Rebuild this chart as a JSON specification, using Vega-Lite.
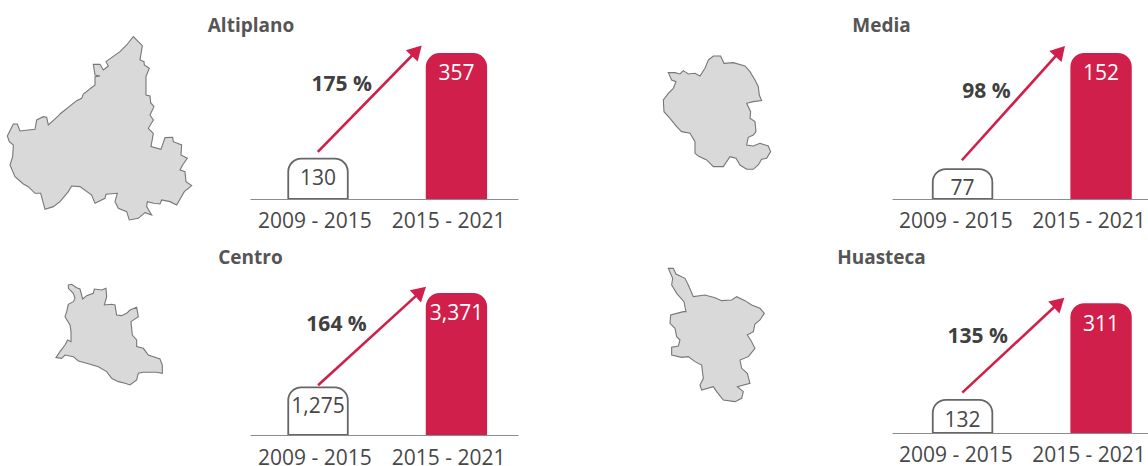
{"$schema":"https://vega.github.io/schema/vega-lite/v6.json","padding":{"left":0,"top":0,"right":0,"bottom":31},"bounds":"flush","align":"each","columns":4,"spacing":{"row":36,"column":0},"background":"white","config":{"view":{"stroke":null},"font":"Open Sans","axis":{"labelFont":"Open Sans"}},"concat":[
{"width":250,"height":199,"projection":{"type":"identity","scale":0.3333,"translate":[0,0]},"layer":[
{"data":{"values":[{"type":"Feature","properties":{"region":"Altiplano"},"geometry":{"type":"Polygon","coordinates":[[[400,110],[427,137],[420,180],[432,185],[433,195],[448,205],[438,230],[438,285],[450,288],[452,308],[462,320],[450,345],[460,360],[445,385],[460,400],[453,440],[483,448],[495,413],[518,412],[520,425],[545,435],[543,465],[562,475],[548,495],[540,510],[555,515],[558,545],[575,557],[553,575],[530,615],[510,605],[485,600],[480,612],[462,610],[442,605],[440,620],[455,645],[435,638],[415,655],[388,660],[380,635],[355,625],[345,605],[352,580],[318,583],[315,595],[285,610],[275,585],[240,560],[215,558],[205,575],[180,605],[160,620],[135,628],[122,580],[105,580],[85,560],[70,552],[45,530],[30,495],[38,470],[40,435],[28,425],[22,408],[40,372],[52,372],[60,393],[105,388],[110,360],[130,350],[140,352],[145,375],[175,348],[180,342],[230,302],[245,295],[250,282],[285,255],[285,230],[300,228],[285,225],[280,193],[300,193],[310,210],[325,198],[318,185],[360,155],[380,135],[400,110]]]}}]},"mark":{"type":"geoshape","clip":false,"fill":"#d9d9d9","stroke":"#777777","strokeWidth":1.1}},
{"data":{"values":[{"lon":753,"lat":78,"name":"Altiplano"}]},"mark":{"type":"text","clip":false,"fontSize":19,"fontWeight":"bold","color":"#555555","baseline":"middle"},"encoding":{"longitude":{"field":"lon","type":"quantitative"},"latitude":{"field":"lat","type":"quantitative"},"text":{"field":"name"}}}
]},
{"width":268,"height":199,"resolve":{"scale":{"x":"independent"}},"layer":[
{"data":{"values":[{"period":"2009 - 2015","value":130},{"period":"2015 - 2021","value":357}]},"layer":[
{"mark":{"type":"bar","clip":true,"strokeWidth":1.8,"cornerRadiusTopLeft":13,"cornerRadiusTopRight":13},"encoding":{"x":{"field":"period","type":"nominal","scale":{"paddingInner":0.57,"paddingOuter":0.253,"align":0.546},"axis":{"title":null,"ticks":false,"labels":false,"domainColor":"#8c8c8c","domainWidth":1.2,"zindex":1}},"y":{"field":"value","type":"quantitative","scale":{"domain":[42.6,474],"zero":false,"nice":false},"axis":null},"y2":{"datum":42.6},"fill":{"field":"period","type":"nominal","scale":{"domain":["2009 - 2015","2015 - 2021"],"range":["#ffffff","#d01f4a"]},"legend":null},"stroke":{"field":"period","type":"nominal","scale":{"domain":["2009 - 2015","2015 - 2021"],"range":["#666666","#d01f4a"]},"legend":null}}},
{"mark":{"type":"text","fontSize":21,"dy":20,"baseline":"middle"},"encoding":{"x":{"field":"period","type":"nominal"},"y":{"field":"value","type":"quantitative"},"text":{"field":"value"},"color":{"field":"period","type":"nominal","scale":{"domain":["2009 - 2015","2015 - 2021"],"range":["#484848","#ffffff"]},"legend":null}}}
]},
{"data":{"values":[{"pos":0.2418,"val":-7,"period":"2009 - 2015"},{"pos":0.7414,"val":-7,"period":"2015 - 2021"}]},"mark":{"type":"text","fontSize":21,"color":"#484848","baseline":"middle"},"encoding":{"x":{"field":"pos","type":"quantitative","scale":{"domain":[0,1]},"axis":null},"y":{"field":"val","type":"quantitative"},"text":{"field":"period"}}},
{"data":{"values":[{"pos":0.253,"val":144.6},{"pos":0.622,"val":364}]},"mark":{"type":"line","color":"#d01f4a","strokeWidth":2.6},"encoding":{"x":{"field":"pos","type":"quantitative","scale":{"domain":[0,1]},"axis":null},"y":{"field":"val","type":"quantitative"}}},
{"data":{"values":[{"pos":0.622,"val":364}]},"mark":{"type":"point","shape":"triangle-up","filled":true,"opacity":1,"size":272,"angle":44,"color":"#d01f4a"},"encoding":{"x":{"field":"pos","type":"quantitative","scale":{"domain":[0,1]},"axis":null},"y":{"field":"val","type":"quantitative"}}},
{"data":{"values":[{"pos":0.342,"val":290.4,"label":"175 %"}]},"mark":{"type":"text","fontSize":21,"fontWeight":"bold","color":"#404040","baseline":"middle"},"encoding":{"x":{"field":"pos","type":"quantitative","scale":{"domain":[0,1]},"axis":null},"y":{"field":"val","type":"quantitative"},"text":{"field":"label"}}}
]},
{"width":374,"height":199,"projection":{"type":"identity","scale":0.3333,"translate":[0,0]},"layer":[
{"data":{"values":[{"type":"Feature","properties":{"region":"Media"},"geometry":{"type":"Polygon","coordinates":[[[571,180],[586,168],[608,168],[618,190],[646,188],[681,198],[696,215],[711,240],[721,260],[724,285],[731,302],[706,305],[686,310],[698,335],[696,355],[711,365],[714,395],[706,405],[691,412],[686,435],[706,438],[726,430],[751,438],[758,455],[746,475],[731,478],[721,495],[706,508],[686,508],[666,495],[654,475],[636,470],[616,500],[586,500],[566,480],[541,468],[531,460],[531,425],[516,400],[491,395],[476,380],[456,355],[438,335],[436,300],[451,280],[466,265],[474,245],[461,240],[451,218],[471,218],[486,222],[496,212],[511,222],[531,220],[546,228],[561,205],[571,180]]]}}]},"mark":{"type":"geoshape","clip":false,"fill":"#d9d9d9","stroke":"#777777","strokeWidth":1.1}},
{"data":{"values":[{"lon":1090.5,"lat":78,"name":"Media"}]},"mark":{"type":"text","clip":false,"fontSize":19,"fontWeight":"bold","color":"#555555","baseline":"middle"},"encoding":{"longitude":{"field":"lon","type":"quantitative"},"latitude":{"field":"lat","type":"quantitative"},"text":{"field":"name"}}}
]},
{"width":256,"height":199,"resolve":{"scale":{"x":"independent"}},"layer":[
{"data":{"values":[{"period":"2009 - 2015","value":77},{"period":"2015 - 2021","value":152}]},"layer":[
{"mark":{"type":"bar","clip":true,"strokeWidth":1.8,"cornerRadiusTopLeft":13,"cornerRadiusTopRight":13},"encoding":{"x":{"field":"period","type":"nominal","scale":{"paddingInner":0.57,"paddingOuter":0.209,"align":0.704},"axis":{"title":null,"ticks":false,"labels":false,"domainColor":"#8c8c8c","domainWidth":1.2,"zindex":1}},"y":{"field":"value","type":"quantitative","scale":{"domain":[57.6,187],"zero":false,"nice":false},"axis":null},"y2":{"datum":57.6},"fill":{"field":"period","type":"nominal","scale":{"domain":["2009 - 2015","2015 - 2021"],"range":["#ffffff","#d01f4a"]},"legend":null},"stroke":{"field":"period","type":"nominal","scale":{"domain":["2009 - 2015","2015 - 2021"],"range":["#666666","#d01f4a"]},"legend":null}}},
{"mark":{"type":"text","fontSize":21,"dy":20,"baseline":"middle"},"encoding":{"x":{"field":"period","type":"nominal"},"y":{"field":"value","type":"quantitative"},"text":{"field":"value"},"color":{"field":"period","type":"nominal","scale":{"domain":["2009 - 2015","2015 - 2021"],"range":["#484848","#ffffff"]},"legend":null}}}
]},
{"data":{"values":[{"pos":0.2492,"val":42.8,"period":"2009 - 2015"},{"pos":0.7695,"val":42.8,"period":"2015 - 2021"}]},"mark":{"type":"text","fontSize":21,"color":"#484848","baseline":"middle"},"encoding":{"x":{"field":"pos","type":"quantitative","scale":{"domain":[0,1]},"axis":null},"y":{"field":"val","type":"quantitative"},"text":{"field":"period"}}},
{"data":{"values":[{"pos":0.273,"val":82.8},{"pos":0.657,"val":153.7}]},"mark":{"type":"line","color":"#d01f4a","strokeWidth":2.6},"encoding":{"x":{"field":"pos","type":"quantitative","scale":{"domain":[0,1]},"axis":null},"y":{"field":"val","type":"quantitative"}}},
{"data":{"values":[{"pos":0.657,"val":153.7}]},"mark":{"type":"point","shape":"triangle-up","filled":true,"opacity":1,"size":272,"angle":42,"color":"#d01f4a"},"encoding":{"x":{"field":"pos","type":"quantitative","scale":{"domain":[0,1]},"axis":null},"y":{"field":"val","type":"quantitative"}}},
{"data":{"values":[{"pos":0.369,"val":127.1,"label":"98 %"}]},"mark":{"type":"text","fontSize":21,"fontWeight":"bold","color":"#404040","baseline":"middle"},"encoding":{"x":{"field":"pos","type":"quantitative","scale":{"domain":[0,1]},"axis":null},"y":{"field":"val","type":"quantitative"},"text":{"field":"label"}}}
]},
{"width":250,"height":200,"projection":{"type":"identity","scale":0.3333,"translate":[0,0]},"layer":[
{"data":{"values":[{"type":"Feature","properties":{"region":"Centro"},"geometry":{"type":"Polygon","coordinates":[[[205,150],[215,148],[230,158],[240,162],[248,192],[260,182],[280,175],[283,162],[305,165],[318,160],[320,185],[313,210],[335,208],[345,210],[350,240],[365,242],[380,235],[390,225],[410,217],[415,245],[393,260],[397,300],[410,315],[410,335],[430,340],[445,360],[480,372],[487,390],[487,415],[470,412],[430,412],[415,415],[410,435],[390,450],[375,445],[355,440],[335,430],[320,410],[295,395],[260,385],[235,378],[220,365],[195,360],[185,370],[168,368],[180,350],[195,330],[203,315],[213,320],[213,290],[210,270],[195,245],[200,230],[205,208],[220,200],[225,190],[220,175],[205,160],[205,150]]]}}]},"mark":{"type":"geoshape","clip":false,"fill":"#d9d9d9","stroke":"#777777","strokeWidth":1.1}},
{"data":{"values":[{"lon":751.5,"lat":69,"name":"Centro"}]},"mark":{"type":"text","clip":false,"fontSize":19,"fontWeight":"bold","color":"#555555","baseline":"middle"},"encoding":{"longitude":{"field":"lon","type":"quantitative"},"latitude":{"field":"lat","type":"quantitative"},"text":{"field":"name"}}}
]},
{"width":268,"height":200,"resolve":{"scale":{"x":"independent"}},"layer":[
{"data":{"values":[{"period":"2009 - 2015","value":1275,"shown":"1,275"},{"period":"2015 - 2021","value":3371,"shown":"3,371"}]},"layer":[
{"mark":{"type":"bar","clip":true,"strokeWidth":1.8,"cornerRadiusTopLeft":13,"cornerRadiusTopRight":13},"encoding":{"x":{"field":"period","type":"nominal","scale":{"paddingInner":0.57,"paddingOuter":0.253,"align":0.546},"axis":{"title":null,"ticks":false,"labels":false,"domainColor":"#8c8c8c","domainWidth":1.2,"zindex":1}},"y":{"field":"value","type":"quantitative","scale":{"domain":[205,4690],"zero":false,"nice":false},"axis":null},"y2":{"datum":205},"fill":{"field":"period","type":"nominal","scale":{"domain":["2009 - 2015","2015 - 2021"],"range":["#ffffff","#d01f4a"]},"legend":null},"stroke":{"field":"period","type":"nominal","scale":{"domain":["2009 - 2015","2015 - 2021"],"range":["#666666","#d01f4a"]},"legend":null}}},
{"mark":{"type":"text","fontSize":21,"dy":20,"baseline":"middle"},"encoding":{"x":{"field":"period","type":"nominal"},"y":{"field":"value","type":"quantitative"},"text":{"field":"shown"},"color":{"field":"period","type":"nominal","scale":{"domain":["2009 - 2015","2015 - 2021"],"range":["#484848","#ffffff"]},"legend":null}}}
]},
{"data":{"values":[{"pos":0.2418,"val":-330,"period":"2009 - 2015"},{"pos":0.7414,"val":-330,"period":"2015 - 2021"}]},"mark":{"type":"text","fontSize":21,"color":"#484848","baseline":"middle"},"encoding":{"x":{"field":"pos","type":"quantitative","scale":{"domain":[0,1]},"axis":null},"y":{"field":"val","type":"quantitative"},"text":{"field":"period"}}},
{"data":{"values":[{"pos":0.254,"val":1320},{"pos":0.637,"val":3420}]},"mark":{"type":"line","color":"#d01f4a","strokeWidth":2.6},"encoding":{"x":{"field":"pos","type":"quantitative","scale":{"domain":[0,1]},"axis":null},"y":{"field":"val","type":"quantitative"}}},
{"data":{"values":[{"pos":0.637,"val":3420}]},"mark":{"type":"point","shape":"triangle-up","filled":true,"opacity":1,"size":272,"angle":48,"color":"#d01f4a"},"encoding":{"x":{"field":"pos","type":"quantitative","scale":{"domain":[0,1]},"axis":null},"y":{"field":"val","type":"quantitative"}}},
{"data":{"values":[{"pos":0.323,"val":2669,"label":"164 %"}]},"mark":{"type":"text","fontSize":21,"fontWeight":"bold","color":"#404040","baseline":"middle"},"encoding":{"x":{"field":"pos","type":"quantitative","scale":{"domain":[0,1]},"axis":null},"y":{"field":"val","type":"quantitative"},"text":{"field":"label"}}}
]},
{"width":374,"height":198,"projection":{"type":"identity","scale":0.3333,"translate":[0,0]},"layer":[
{"data":{"values":[{"type":"Feature","properties":{"region":"Huasteca"},"geometry":{"type":"Polygon","coordinates":[[[451,100],[466,100],[474,117],[501,130],[511,150],[526,185],[561,180],[591,188],[611,197],[641,195],[656,185],[681,197],[701,210],[726,220],[739,235],[726,255],[711,267],[706,290],[688,300],[698,315],[711,340],[691,365],[666,375],[671,400],[688,415],[696,445],[658,455],[676,470],[671,490],[651,500],[616,495],[596,470],[586,455],[551,465],[546,450],[556,430],[551,390],[531,380],[511,365],[491,367],[461,360],[461,337],[481,333],[486,315],[476,305],[471,280],[456,265],[458,240],[496,230],[504,230],[498,200],[476,175],[461,150],[464,130],[451,100]]]}}]},"mark":{"type":"geoshape","clip":false,"fill":"#d9d9d9","stroke":"#777777","strokeWidth":1.1}},
{"data":{"values":[{"lon":1090.5,"lat":69,"name":"Huasteca"}]},"mark":{"type":"text","clip":false,"fontSize":19,"fontWeight":"bold","color":"#555555","baseline":"middle"},"encoding":{"longitude":{"field":"lon","type":"quantitative"},"latitude":{"field":"lat","type":"quantitative"},"text":{"field":"name"}}}
]},
{"width":256,"height":198,"resolve":{"scale":{"x":"independent"}},"layer":[
{"data":{"values":[{"period":"2009 - 2015","value":132},{"period":"2015 - 2021","value":311}]},"layer":[
{"mark":{"type":"bar","clip":true,"strokeWidth":1.8,"cornerRadiusTopLeft":13,"cornerRadiusTopRight":13},"encoding":{"x":{"field":"period","type":"nominal","scale":{"paddingInner":0.57,"paddingOuter":0.209,"align":0.704},"axis":{"title":null,"ticks":false,"labels":false,"domainColor":"#8c8c8c","domainWidth":1.2,"zindex":1}},"y":{"field":"value","type":"quantitative","scale":{"domain":[70.1,440],"zero":false,"nice":false},"axis":null},"y2":{"datum":70.1},"fill":{"field":"period","type":"nominal","scale":{"domain":["2009 - 2015","2015 - 2021"],"range":["#ffffff","#d01f4a"]},"legend":null},"stroke":{"field":"period","type":"nominal","scale":{"domain":["2009 - 2015","2015 - 2021"],"range":["#666666","#d01f4a"]},"legend":null}}},
{"mark":{"type":"text","fontSize":21,"dy":21,"baseline":"middle"},"encoding":{"x":{"field":"period","type":"nominal"},"y":{"field":"value","type":"quantitative"},"text":{"field":"value"},"color":{"field":"period","type":"nominal","scale":{"domain":["2009 - 2015","2015 - 2021"],"range":["#484848","#ffffff"]},"legend":null}}}
]},
{"data":{"values":[{"pos":0.2492,"val":28,"period":"2009 - 2015"},{"pos":0.7695,"val":28,"period":"2015 - 2021"}]},"mark":{"type":"text","fontSize":21,"color":"#484848","baseline":"middle"},"encoding":{"x":{"field":"pos","type":"quantitative","scale":{"domain":[0,1]},"axis":null},"y":{"field":"val","type":"quantitative"},"text":{"field":"period"}}},
{"data":{"values":[{"pos":0.2746,"val":145.5},{"pos":0.6527,"val":313.8}]},"mark":{"type":"line","color":"#d01f4a","strokeWidth":2.6},"encoding":{"x":{"field":"pos","type":"quantitative","scale":{"domain":[0,1]},"axis":null},"y":{"field":"val","type":"quantitative"}}},
{"data":{"values":[{"pos":0.6527,"val":313.8}]},"mark":{"type":"point","shape":"triangle-up","filled":true,"opacity":1,"size":272,"angle":47,"color":"#d01f4a"},"encoding":{"x":{"field":"pos","type":"quantitative","scale":{"domain":[0,1]},"axis":null},"y":{"field":"val","type":"quantitative"}}},
{"data":{"values":[{"pos":0.3348,"val":249.8,"label":"135 %"}]},"mark":{"type":"text","fontSize":21,"fontWeight":"bold","color":"#404040","baseline":"middle"},"encoding":{"x":{"field":"pos","type":"quantitative","scale":{"domain":[0,1]},"axis":null},"y":{"field":"val","type":"quantitative"},"text":{"field":"label"}}}
]}
]}
